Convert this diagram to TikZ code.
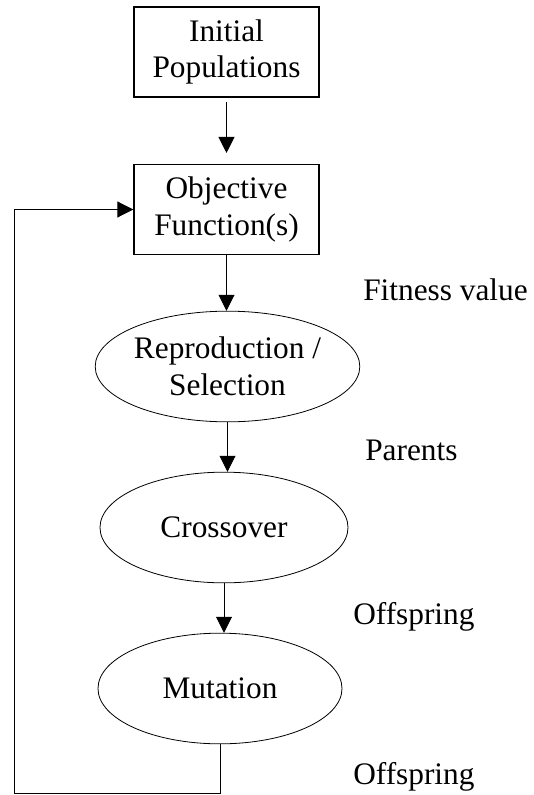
\documentclass[tikz,border=0pt]{standalone}
\usepackage{fontspec}
\setmainfont{Liberation Serif}
\usetikzlibrary{shapes.geometric}
\usetikzlibrary{arrows.meta}

\tikzset{
  stepbox/.style={draw, line width=1.3pt, minimum width=138.5pt, minimum height=67.5pt,
    align=center, inner sep=0pt},
  stepoval/.style={draw, ellipse, line width=0.6pt, minimum height=83pt,
    align=center, inner sep=0pt},
  flow/.style={-{Triangle[width=12pt,length=12pt]}, line width=0.7pt},
  note/.style={anchor=base west, inner sep=0pt}
}

\begin{document}
\begin{tikzpicture}[x=0.75pt,y=-0.75pt,font=\fontsize{23.5}{27.6}\selectfont]
\useasboundingbox (0,0) rectangle (533,795);

% steps
\node[stepbox] (init) at (226.5,52) {Initial\\Populations};
\node[stepbox] (obj) at (226.5,209.5) {Objective\\Function(s)};
\node[stepoval, minimum width=187.5pt] (repr) at (227.5,366.5) {Reproduction /\\Selection};
\node[stepoval, minimum width=186pt] (cross) at (224,527.5) {Crossover};
\node[stepoval, minimum width=183pt] (mut) at (220,688.5) {Mutation};

% what flows between them
\node[note] (fit) at (363,300) {Fitness value};
\node[note] (par) at (365,460) {Parents};
\node[note] (off1) at (353,624) {Offspring};
\node[note] (off2) at (353,784) {Offspring};

\draw[flow, shorten <=3pt, shorten >=8pt] (init.south) -- (obj.north);
\draw[flow] (obj.south) -- (obj.south |- repr.north);
\draw[flow] (repr.south) -- (repr.south |- cross.north);
\draw[flow] (cross.south) -- (cross.south |- mut.north);

% loop back
\coordinate (back) at (14,793);
\draw[flow] (mut.south) |- (back) |- (obj.west);
\end{tikzpicture}
\end{document}
